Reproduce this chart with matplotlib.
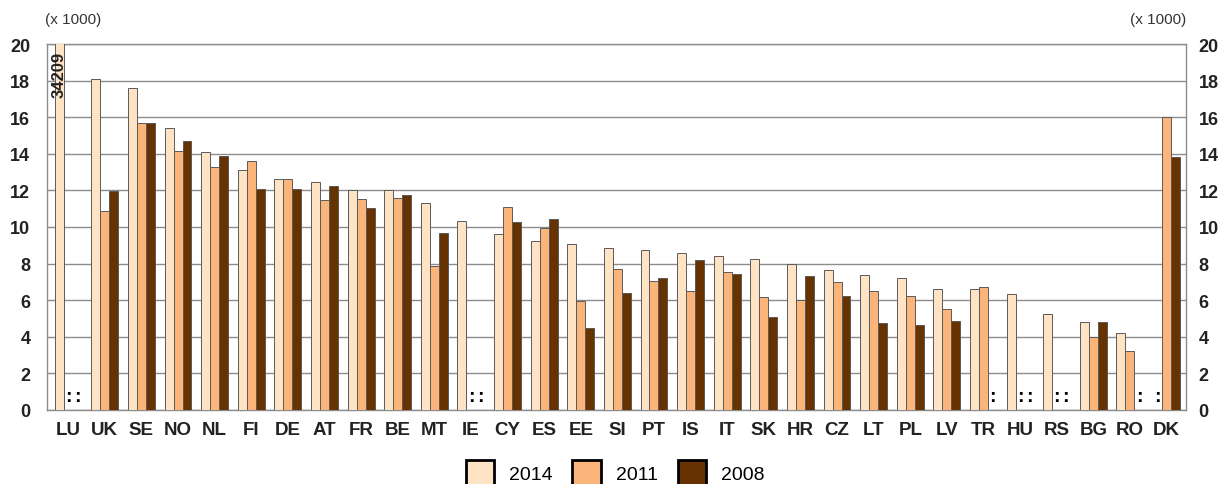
import numpy as np
import matplotlib
matplotlib.use("Agg")
import matplotlib.pyplot as plt

plt.rcParams['font.family'] = ['Liberation Sans', 'DejaVu Sans']

# values in thousands, nan = not available (":")
countries = ['LU', 'UK', 'SE', 'NO', 'NL', 'FI', 'DE', 'AT', 'FR', 'BE', 'MT', 'IE', 'CY', 'ES',
             'EE', 'SI', 'PT', 'IS', 'IT', 'SK', 'HR', 'CZ', 'LT', 'PL', 'LV', 'TR', 'HU', 'RS',
             'BG', 'RO', 'DK']
nan = np.nan
v2014 = [34.209, 18.1, 17.6, 15.4, 14.1, 13.1, 12.6, 12.45, 12.0, 12.0, 11.3, 10.35, 9.6, 9.25,
         9.05, 8.85, 8.75, 8.6, 8.4, 8.25, 8.0, 7.65, 7.35, 7.2, 6.6, 6.6, 6.35, 5.25,
         4.8, 4.2, nan]
v2011 = [nan, 10.85, 15.7, 14.15, 13.3, 13.6, 12.6, 11.5, 11.55, 11.6, 7.85, nan, 11.1, 9.95,
         5.95, 7.7, 7.05, 6.5, 7.55, 6.15, 6.0, 7.0, 6.5, 6.25, 5.5, 6.7, nan, nan,
         3.98, 3.2, 16.0]
v2008 = [nan, 11.95, 15.7, 14.7, 13.9, 12.05, 12.05, 12.25, 11.05, 11.75, 9.65, nan, 10.3, 10.45,
         4.5, 6.4, 7.2, 8.2, 7.45, 5.1, 7.3, 6.25, 4.75, 4.65, 4.85, nan, nan, nan,
         4.8, nan, 13.8]
years = ['2014', '2011', '2008']
colors = ['#FEE4C5', '#FBB47A', '#663300']

fig = plt.figure(figsize=(12.23, 4.85), dpi=100)
ax = fig.add_axes([0.0384, 0.1526, 0.9313, 0.7546])

x = np.arange(len(countries))
w = 0.245
series = [v2014, v2011, v2008]
for i, (vals, c, lab) in enumerate(zip(series, colors, years)):
    pos = x + (i - 1) * w
    vals = np.array(vals, dtype=float)
    ax.bar(pos, np.nan_to_num(vals), w, color=c, edgecolor='#5a5a5a', linewidth=0.7,
           label=lab, zorder=3)
    for p, v in zip(pos, vals):
        if np.isnan(v):
            ax.text(p, 0.25, ':', ha='center', va='bottom', fontsize=14, fontweight='bold',
                    color='black', zorder=4)

# LU value above the scale
ax.text(x[0] - w, 19.6, '34209', rotation=90, ha='center', va='top', fontsize=12,
        fontweight='bold', color='#222222', zorder=4)

ax.set_ylim(0, 20)
ax.set_xlim(-0.58, 30.53)
ax.set_yticks(np.arange(0, 21, 2))
ax.yaxis.grid(True, color='#8c8c8c', linewidth=1.0, zorder=0)
ax.set_axisbelow(True)
for s in ax.spines.values():
    s.set_color('#8c8c8c')
    s.set_linewidth(1.0)

ax.set_xticks(x)
ax.set_xticklabels(countries, fontsize=13.5, fontweight='bold', color='#222222')
ax.tick_params(axis='x', length=0, pad=8)
ax.tick_params(axis='y', length=0, labelsize=13, labelcolor='#222222', pad=12)
for t in ax.get_yticklabels():
    t.set_fontweight('bold')

# right-hand scale
ax2 = ax.twinx()
ax2.set_ylim(ax.get_ylim())
ax2.set_yticks(np.arange(0, 21, 2))
ax2.tick_params(axis='y', length=0, labelsize=13, labelcolor='#222222', pad=9)
for t in ax2.get_yticklabels():
    t.set_fontweight('bold')
for s in ax2.spines.values():
    s.set_visible(False)

fig.text(0.037, 0.945, '(x 1000)', fontsize=11, color='#333333', ha='left', va='bottom')
fig.text(0.9697, 0.945, '(x 1000)', fontsize=11, color='#333333', ha='right', va='bottom')

leg = ax.legend(loc='lower center', bbox_to_anchor=(0.503, -0.038), bbox_transform=fig.transFigure,
                ncol=3, frameon=False, fontsize=14, handlelength=1.45, handleheight=1.6,
                handletextpad=0.8, columnspacing=1.0)
for h in leg.legend_handles:
    h.set_edgecolor('black')
    h.set_linewidth(2)

fig.savefig('out.png', dpi=100)
